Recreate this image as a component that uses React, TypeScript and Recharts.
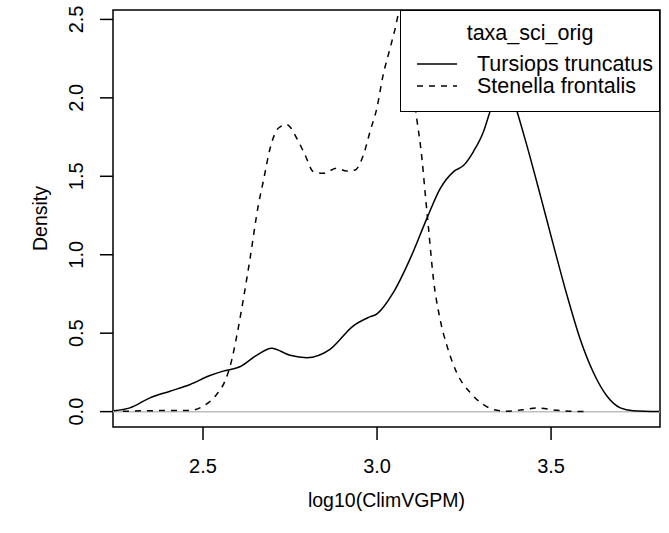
import React from 'react'
import {
  LineChart,
  Line,
  XAxis,
  YAxis,
  ReferenceLine,
  ReferenceArea,
} from 'recharts'

// density estimates
const tursiopsX = [2.244, 2.29, 2.348, 2.405, 2.463, 2.52, 2.558, 2.606, 2.654, 2.697, 2.75, 2.798, 2.865, 2.932, 2.975, 2.999, 3.047, 3.095, 3.143, 3.181, 3.22, 3.249, 3.277, 3.306, 3.325, 3.345, 3.365, 3.385, 3.402, 3.43, 3.469, 3.507, 3.546, 3.584, 3.622, 3.661, 3.699, 3.736, 3.811]
const tursiopsY = [0.005, 0.024, 0.088, 0.13, 0.173, 0.23, 0.258, 0.286, 0.359, 0.404, 0.359, 0.344, 0.397, 0.547, 0.6, 0.622, 0.76, 0.974, 1.23, 1.42, 1.53, 1.57, 1.658, 1.786, 1.915, 2.03, 2.08, 2.03, 1.915, 1.7, 1.38, 1.06, 0.74, 0.46, 0.248, 0.098, 0.024, 0.006, 0.001]

const stenellaX = [2.27, 2.348, 2.463, 2.5, 2.539, 2.563, 2.583, 2.597, 2.616, 2.635, 2.659, 2.673, 2.693, 2.717, 2.741, 2.769, 2.793, 2.817, 2.846, 2.884, 2.913, 2.937, 2.961, 2.98, 2.999, 3.018, 3.038, 3.052, 3.065, 3.08, 3.095, 3.114, 3.129, 3.138, 3.148, 3.162, 3.181, 3.201, 3.229, 3.268, 3.306, 3.335, 3.373, 3.42, 3.459, 3.517, 3.56, 3.61]
const stenellaY = [0.002, 0.006, 0.008, 0.034, 0.109, 0.194, 0.333, 0.483, 0.718, 0.974, 1.316, 1.466, 1.68, 1.808, 1.829, 1.744, 1.637, 1.53, 1.519, 1.551, 1.534, 1.54, 1.637, 1.786, 1.93, 2.15, 2.32, 2.44, 2.55, 2.45, 2.2, 1.87, 1.615, 1.4, 1.167, 0.846, 0.59, 0.419, 0.248, 0.12, 0.045, 0.013, 0.003, 0.012, 0.024, 0.008, 0.002, 0.0]

const xTicks = [2.5, 3.0, 3.5]
const yTicks = [0, 0.5, 1.0, 1.5, 2.0, 2.5]
const xDomain = [2.2414, 3.813]
const yDomain = [-0.098, 2.56]

const legendTitle = 'taxa_sci_orig'
const seriesNames = ['Tursiops truncatus', 'Stenella frontalis']

const FONT = 'Liberation Sans, Arial, Helvetica, sans-serif'
const FS = 20
const FS_TITLE = 19.5
const FS_LEGEND = 21.5

const tursiops = tursiopsX.map((x, i) => ({ x, y: tursiopsY[i] }))
const stenella = stenellaX.map((x, i) => ({ x, y: stenellaY[i] }))

function XTick({ x, y, payload }: any) {
  return (
    <text x={x} y={y} dy={33} textAnchor="middle" fontFamily={FONT} fontSize={FS} fill="#000">
      {payload.value.toFixed(1)}
    </text>
  )
}

function YTick({ x, y, payload }: any) {
  return (
    <text transform={`translate(${x - 17},${y}) rotate(-90)`} textAnchor="middle" fontFamily={FONT} fontSize={FS} fill="#000">
      {payload.value.toFixed(1)}
    </text>
  )
}

function Legend() {
  return (
    <div
      style={{
        position: 'absolute',
        left: 400,
        top: 10,
        width: 260,
        height: 102,
        boxSizing: 'border-box',
        border: '1.5px solid #000',
        background: '#fff',
        fontFamily: FONT,
        fontSize: FS_LEGEND,
        lineHeight: '20px',
      }}
    >
      <div style={{ position: 'absolute', top: 12, left: 0, width: '100%', textAlign: 'center' }}>{legendTitle}</div>
      {seriesNames.map((name, i) => (
        <div key={name} style={{ position: 'absolute', top: 43 + i * 22, left: 16, display: 'flex', alignItems: 'center' }}>
          <svg width={40} height={20}>
            <line x1={0} x2={40} y1={10} y2={10} stroke="#000" strokeWidth={1.5} strokeDasharray={i === 1 ? '6 6' : undefined} />
          </svg>
          <span style={{ marginLeft: 20 }}>{name}</span>
        </div>
      ))}
    </div>
  )
}

export default function App() {
  return (
    <div style={{ position: 'absolute', left: 0, top: 0, width: 669, height: 533, background: '#fff' }}>
      <LineChart width={669} height={533} margin={{ top: 10, right: 9, left: 0, bottom: 0 }}>
        <XAxis
          type="number"
          dataKey="x"
          domain={xDomain}
          ticks={xTicks}
          allowDataOverflow
          axisLine={false}
          tickLine={{ stroke: '#000', strokeWidth: 1.5 }}
          tickSize={13}
          tickMargin={0}
          height={106}
          tick={<XTick />}
          label={{
            content: () => (
              <text x={386.5} y={507} textAnchor="middle" fontFamily={FONT} fontSize={FS_TITLE} fill="#000">
                log10(ClimVGPM)
              </text>
            ),
          }}
        />
        <YAxis
          type="number"
          domain={yDomain}
          ticks={yTicks}
          allowDataOverflow
          axisLine={false}
          tickLine={{ stroke: '#000', strokeWidth: 1.5 }}
          tickSize={13}
          tickMargin={0}
          width={113}
          tick={<YTick />}
          label={{
            content: () => (
              <text transform="translate(47,218.5) rotate(-90)" textAnchor="middle" fontFamily={FONT} fontSize={FS_TITLE} fill="#000">
                Density
              </text>
            ),
          }}
        />
        <ReferenceLine y={0} stroke="#bebebe" strokeWidth={1.5} />
        <Line data={tursiops} dataKey="y" type="monotone" stroke="#000" strokeWidth={1.5} dot={false} isAnimationActive={false} />
        <Line data={stenella} dataKey="y" type="monotone" stroke="#000" strokeWidth={1.5} strokeDasharray="6 6" dot={false} isAnimationActive={false} />
        <ReferenceArea x1={xDomain[0]} x2={xDomain[1]} y1={yDomain[0]} y2={yDomain[1]} fill="none" stroke="#000" strokeWidth={1.5} ifOverflow="visible" />
      </LineChart>
      <Legend />
    </div>
  )
}
